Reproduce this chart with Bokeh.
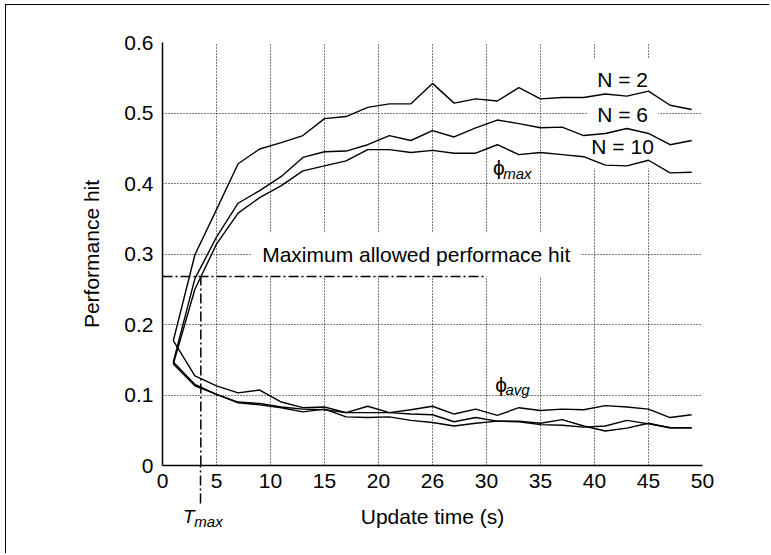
from bokeh.plotting import figure
from bokeh.models import FixedTicker, Label, NumeralTickFormatter, Range1d, LinearAxis
from bokeh.embed import file_html
from bokeh.resources import INLINE

# ---------------- data ----------------
update_time = [1, 3, 5, 7, 9, 11, 13, 15, 17, 19, 21, 23, 25,
               27, 29, 31, 33, 35, 37, 39, 41, 43, 45, 47, 49]

phi_max_n2 = [0.177, 0.299, 0.363, 0.428, 0.449, 0.458, 0.468, 0.492, 0.495, 0.508, 0.513, 0.513, 0.542,
              0.514, 0.520, 0.517, 0.536, 0.520, 0.522, 0.522, 0.527, 0.524, 0.531, 0.511, 0.505]
phi_max_n6 = [0.147, 0.265, 0.324, 0.372, 0.390, 0.410, 0.437, 0.445, 0.446, 0.455, 0.468, 0.461, 0.475,
              0.466, 0.479, 0.490, 0.485, 0.479, 0.480, 0.468, 0.471, 0.478, 0.471, 0.455, 0.461]
phi_max_n10 = [0.144, 0.250, 0.314, 0.358, 0.380, 0.397, 0.418, 0.425, 0.432, 0.448, 0.448, 0.444, 0.447,
               0.443, 0.443, 0.455, 0.441, 0.444, 0.441, 0.438, 0.426, 0.425, 0.433, 0.415, 0.416]

phi_avg_n2 = [0.177, 0.127, 0.113, 0.103, 0.107, 0.090, 0.082, 0.083, 0.075, 0.084, 0.075, 0.079, 0.084,
              0.073, 0.080, 0.071, 0.082, 0.078, 0.080, 0.079, 0.085, 0.083, 0.080, 0.068, 0.072]
phi_avg_n6 = [0.147, 0.115, 0.101, 0.090, 0.088, 0.083, 0.080, 0.079, 0.075, 0.075, 0.075, 0.073, 0.072,
              0.062, 0.068, 0.063, 0.063, 0.060, 0.065, 0.056, 0.049, 0.053, 0.060, 0.0535, 0.0535]
phi_avg_n10 = [0.144, 0.113, 0.101, 0.089, 0.086, 0.082, 0.076, 0.080, 0.069, 0.068, 0.069, 0.064, 0.061,
               0.056, 0.060, 0.063, 0.062, 0.058, 0.057, 0.0545, 0.056, 0.064, 0.059, 0.0535, 0.0535]

x_ticks = [0, 5, 10, 15, 20, 25, 30, 35, 40, 45, 50]
x_tick_labels = ["0", "5", "10", "15", "20", "26", "30", "35", "40", "45", "50"]
y_ticks = [0, 0.1, 0.2, 0.3, 0.4, 0.5, 0.6]

max_allowed_hit = 0.268   # maximum allowed performance hit
t_max = 3.55              # T_max
threshold_line_end = 30

# "T_max" marker text, placed as extra axis labels under the T_max tick
tmax_main_pos, tmax_main_text = 2.44, "T"
tmax_sub_pos, tmax_sub_text = 4.26, "max"

FONT = "Liberation Sans"
FS = "21px"
DASHDOT = "10 3 2 3"
TMAX_TICK = 38

# ---------------- figure ----------------
p = figure(width=764, height=549,
           x_range=Range1d(0, 50), y_range=Range1d(0, 0.6),
           output_backend="svg", toolbar_location=None,
           min_border_left=156, min_border_right=68,
           min_border_top=37, min_border_bottom=89,
           margin=(5, 0, 0, 6))
p.styles = {"box-shadow": "-1px -1px 0 0 black"}
p.outline_line_color = None
p.background_fill_color = "white"
p.border_fill_color = "white"

xa = p.xaxis[0]
overrides = {}
for t, l in zip(x_ticks, x_tick_labels):
    if str(t) != l:
        overrides[t] = l
        overrides[str(t)] = l
xa.ticker = FixedTicker(ticks=x_ticks, minor_ticks=[t_max])
xa.major_label_overrides = overrides
xa.major_tick_out = 0
xa.major_tick_in = 0
xa.minor_tick_in = 0
xa.minor_tick_out = TMAX_TICK
xa.minor_tick_line_color = "black"
xa.minor_tick_line_width = 1.5
xa.minor_tick_line_dash = DASHDOT
xa.axis_line_width = 1.5
xa.axis_line_color = "black"
xa.major_label_text_font = FONT
xa.major_label_text_font_size = FS
xa.major_label_text_color = "black"
xa.major_label_standoff = 8 - TMAX_TICK
xa.axis_label = "Update time (s)"
xa.axis_label_text_font = FONT
xa.axis_label_text_font_size = FS
xa.axis_label_text_font_style = "normal"
xa.axis_label_text_color = "black"
xa.axis_label_standoff = 14


def text_axis(pos, text, size, standoff):
    ax = LinearAxis(ticker=FixedTicker(ticks=[pos], minor_ticks=[]),
                    major_label_overrides={pos: text, str(pos): text},
                    axis_line_color=None, major_tick_line_color=None,
                    minor_tick_line_color=None,
                    major_tick_out=0, major_tick_in=0,
                    major_label_text_font=FONT, major_label_text_font_size=size,
                    major_label_text_font_style="italic",
                    major_label_text_color="black",
                    major_label_standoff=standoff)
    p.add_layout(ax, "below")
    return ax

text_axis(tmax_main_pos, tmax_main_text, "19px", -25)
text_axis(tmax_sub_pos, tmax_sub_text, "15px", -18)

ya = p.yaxis[0]
ya.ticker = FixedTicker(ticks=y_ticks)
ya.formatter = NumeralTickFormatter(format="0.[0]")
ya.major_tick_out = 0
ya.major_tick_in = 0
ya.minor_tick_line_color = None
ya.axis_line_width = 1.5
ya.axis_line_color = "black"
ya.major_label_text_font = FONT
ya.major_label_text_font_size = FS
ya.major_label_text_color = "black"
ya.major_label_standoff = 9
ya.axis_label = "Performance hit"
ya.axis_label_text_font = FONT
ya.axis_label_text_font_size = FS
ya.axis_label_text_font_style = "normal"
ya.axis_label_text_color = "black"
ya.axis_label_standoff = 18

for g in (p.xgrid[0], p.ygrid[0]):
    g.grid_line_color = "black"
    g.grid_line_width = 1
    g.grid_line_dash = "1 2"
p.xgrid[0].ticker = FixedTicker(ticks=x_ticks)
p.ygrid[0].ticker = FixedTicker(ticks=y_ticks)

# ---------------- text ----------------
def add_label(x, y, text, size=FS, style="normal", align="left", box=False):
    kw = dict(x=x, y=y, text=text, text_font=FONT, text_font_size=size,
              text_font_style=style, text_align=align, text_baseline="alphabetic",
              text_color="black", level="underlay")
    if box:
        kw.update(background_fill_color="white", padding=10)
    lab = Label(**kw)
    p.add_layout(lab)
    return lab

add_label(8.3, 0.299, "Maximum allowed performace hit", box=True)
add_label(42.6, 0.547, "N = 2", align="center", box=True)
add_label(42.6, 0.498, "N = 6", align="center", box=True)
add_label(42.6, 0.452, "N = 10", align="center", box=True)
add_label(30.6, 0.423, "\u03d5")
add_label(31.55, 0.414, "max", size="15px", style="italic")
add_label(30.8, 0.115, "\u03d5")
add_label(31.75, 0.108, "avg", size="15px", style="italic")

# ---------------- curves ----------------
for ys in (phi_max_n2, phi_max_n6, phi_max_n10, phi_avg_n2, phi_avg_n6, phi_avg_n10):
    p.line(update_time, ys, line_color="black", line_width=1.4)

p.line([0, threshold_line_end], [max_allowed_hit, max_allowed_hit],
       line_color="black", line_width=1.5, line_dash=DASHDOT)
p.line([t_max, t_max], [0, max_allowed_hit],
       line_color="black", line_width=1.5, line_dash=DASHDOT)

open("out.html", "w").write(file_html(p, INLINE))
